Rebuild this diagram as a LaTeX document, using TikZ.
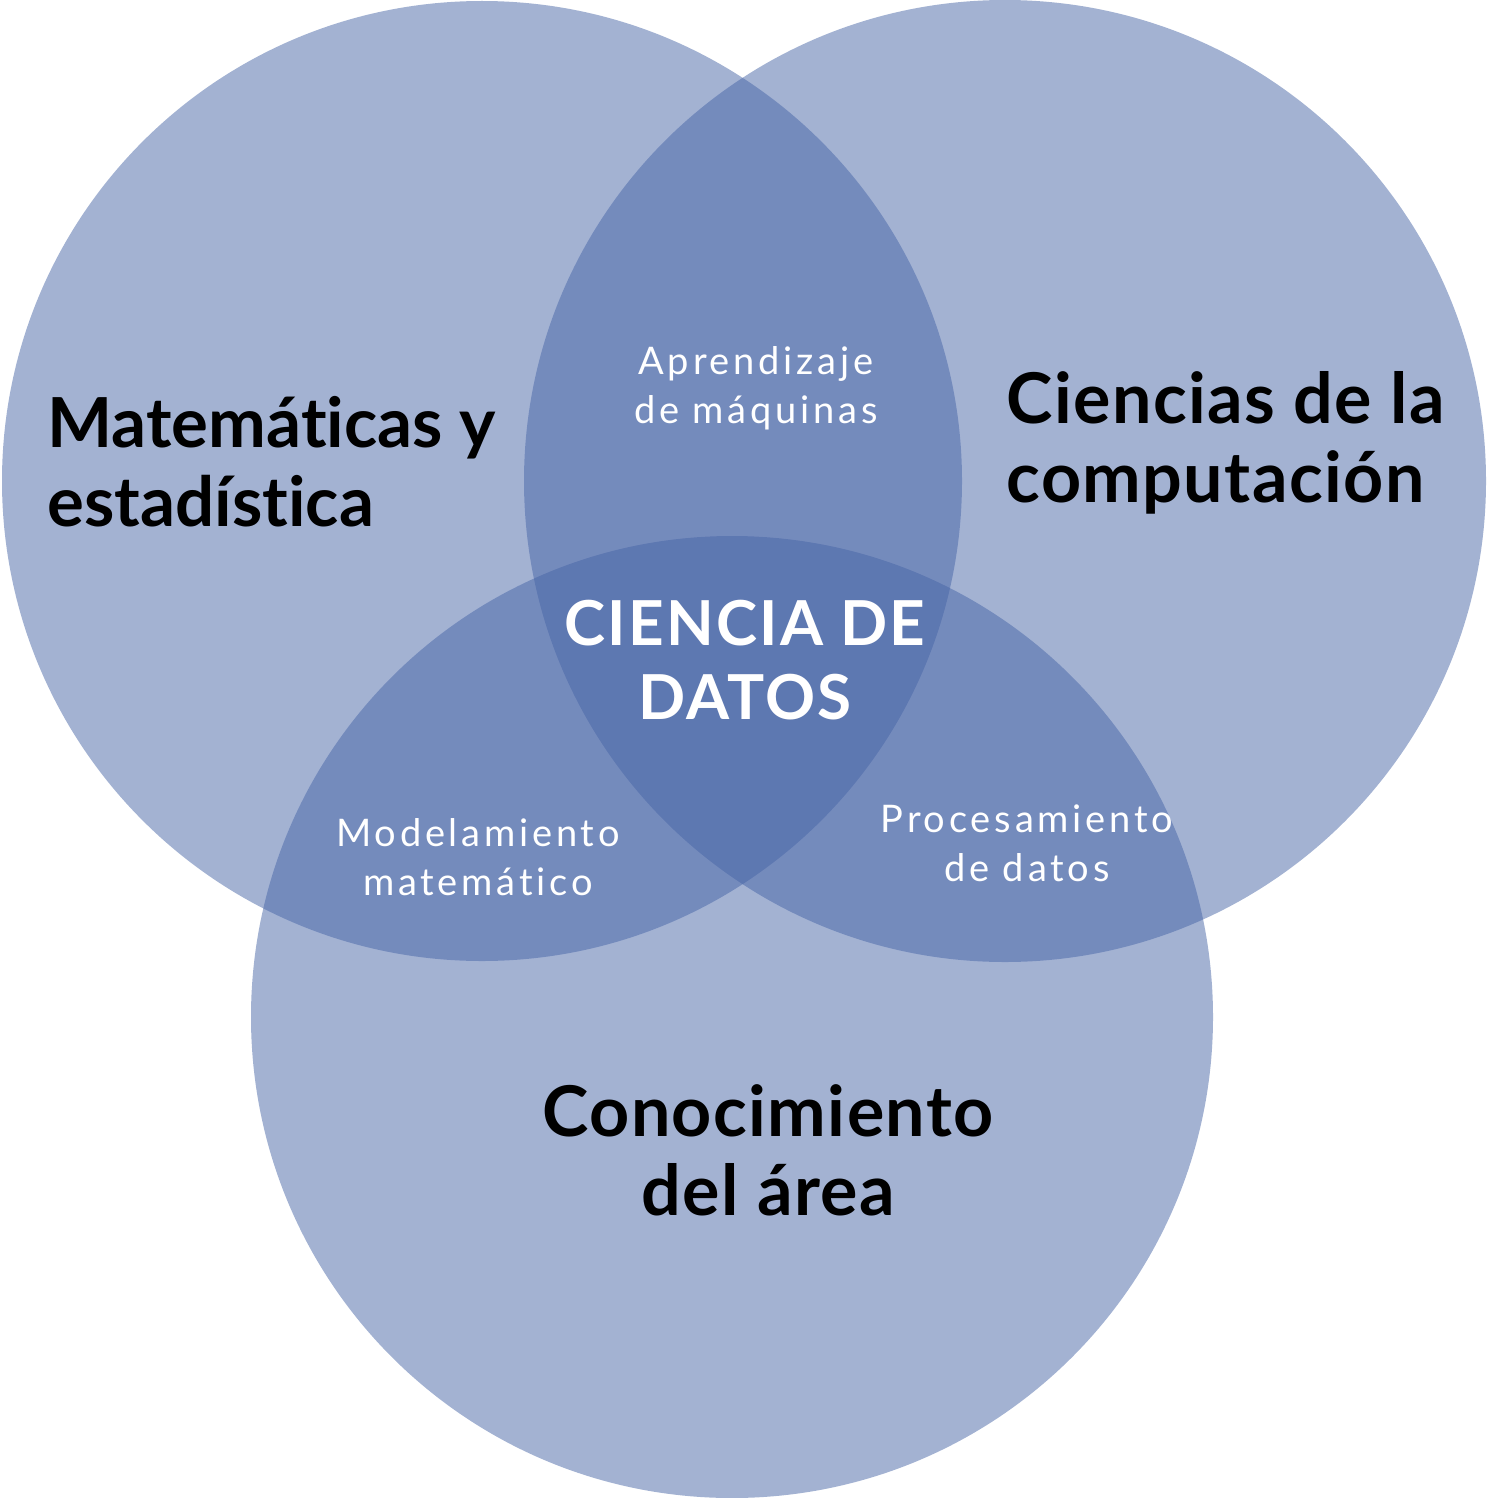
\documentclass[tikz,border=0pt]{standalone}
\usepackage{fontspec}
\setmainfont[Ligatures=CommonOff]{Lato}
\newfontfamily\bigfont[Ligatures=CommonOff, LetterSpace=2]{Lato}
\newfontfamily\smallfont[Ligatures=CommonOff, LetterSpace=10]{Lato}
\newfontfamily\centfont[Ligatures=CommonOff, LetterSpace=3.5]{Lato}
\begin{document}
\begin{tikzpicture}[x=1pt,y=-1pt,
  venn/.style={circle, inner sep=0pt, minimum size=#1, fill={rgb,255:red,71;green,101;blue,166}, fill opacity=0.5},
  biglabel/.style={align=center, text=black, font=\bigfont\bfseries\fontsize{70}{79}\selectfont},
  smalllabel/.style={align=center, text=white, font=\smallfont\fontsize{38}{49}\selectfont},
  centerlabel/.style={align=center, text=white, font=\centfont\bfseries\fontsize{62}{74}\selectfont}]
\useasboundingbox (0,0) rectangle (1486,1498);
\node[venn=960pt] (mat) at (482,481) {};
\node[venn=962pt] (comp) at (1005,481) {};
\node[venn=962pt] (area) at (732,1017) {};
\node[biglabel, font=\bfseries\fontsize{69}{79}\selectfont, align=left, anchor=west] (tmat) at (44,462) {Matemáticas y\\estadística};
\node[biglabel, align=left, anchor=west] (tcomp) at (1003,443) {Ciencias de la\\computación};
\node[biglabel] (tarea) at (768,1150) {Conocimiento\\del área};
\node[smalllabel] (tapr) at (756,388) {Aprendizaje\\de máquinas};
\node[smalllabel] (tmod) at (478,857) {Modelamiento\\matemático};
\node[smalllabel] (tproc) at (1027,843) {Procesamiento\\de datos};
\node[centerlabel] (tcd) at (745,660) {CIENCIA DE\\DATOS};
\end{tikzpicture}
\end{document}
